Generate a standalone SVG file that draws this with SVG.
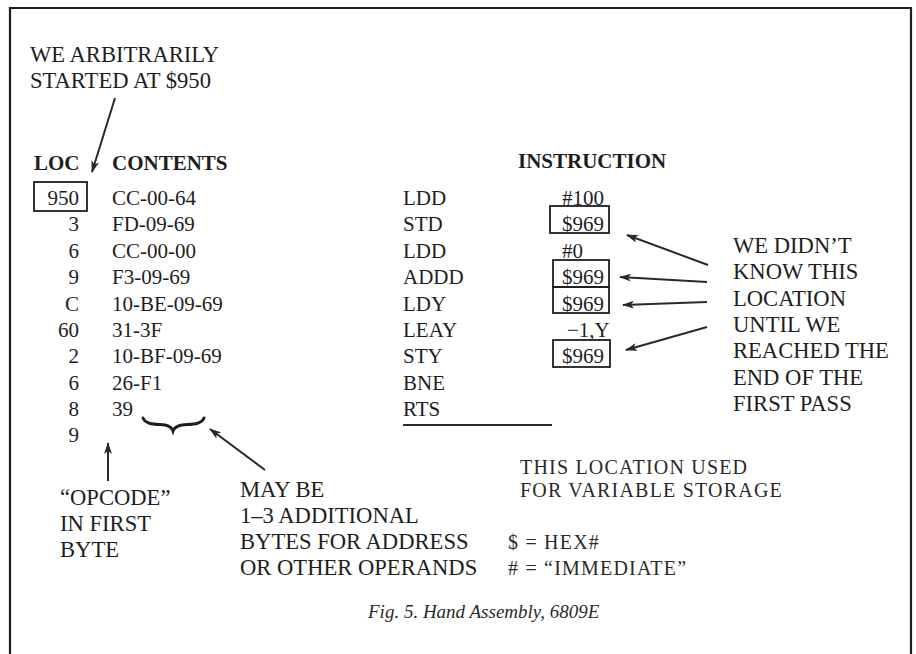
<svg xmlns="http://www.w3.org/2000/svg" width="916" height="654" viewBox="0 0 916 654">
  <defs>
    <style>
      text { font-family: "Liberation Serif", "Times New Roman", serif; fill: #1e1e1e; }
      .t { font-size: 21px; }
      .c { font-size: 22.6px; }
      .h { font-size: 21px; font-weight: bold; }
      .r { text-anchor: end; }
      .note { font-size: 20px; letter-spacing: 1.2px; fill: #2a2a2a; }
      .cap { font-size: 19px; font-style: italic; fill: #2a2a2a; }
      .box { fill: none; stroke: #1e1e1e; stroke-width: 1.8; }
      .frame { fill: none; stroke: #1e1e1e; stroke-width: 2.2; }
      .ln { fill: none; stroke: #2a2a2a; stroke-width: 2; }
    </style>
    <marker id="ah" viewBox="0 0 12 8" refX="11" refY="4" markerWidth="12" markerHeight="8" markerUnits="userSpaceOnUse" orient="auto">
      <path d="M0,0 L12,4 L0,8 L3,4 Z" fill="#2a2a2a"/>
    </marker>
  </defs>

  <rect width="916" height="654" fill="#ffffff"/>

  <!-- outer frame (open at the bottom) -->
  <path class="frame" d="M10,660 L10,8 L911,8 L911,660"/>

  <!-- note: starting address -->
  <g id="note-start">
    <text class="c" x="30" y="62">WE ARBITRARILY</text>
    <text class="c" x="30" y="88">STARTED AT $950</text>
  </g>

  <!-- column headers -->
  <g id="headers">
    <text class="h" x="34" y="170">LOC</text>
    <text class="h" x="112" y="170">CONTENTS</text>
    <text class="h" x="518" y="168">INSTRUCTION</text>
  </g>

  <!-- location column -->
  <g id="loc">
    <rect class="box" x="34" y="182" width="53" height="29"/>
    <text class="t r" x="79" y="205">950</text>
    <text class="t r" x="79" y="231">3</text>
    <text class="t r" x="79" y="258">6</text>
    <text class="t r" x="79" y="284">9</text>
    <text class="t r" x="79" y="311">C</text>
    <text class="t r" x="79" y="337">60</text>
    <text class="t r" x="79" y="363">2</text>
    <text class="t r" x="79" y="390">6</text>
    <text class="t r" x="79" y="416">8</text>
    <text class="t r" x="79" y="442">9</text>
  </g>

  <!-- contents column -->
  <g id="contents">
    <text class="t" x="112" y="205">CC-00-64</text>
    <text class="t" x="112" y="231">FD-09-69</text>
    <text class="t" x="112" y="258">CC-00-00</text>
    <text class="t" x="112" y="284">F3-09-69</text>
    <text class="t" x="112" y="311">10-BE-09-69</text>
    <text class="t" x="112" y="337">31-3F</text>
    <text class="t" x="112" y="363">10-BF-09-69</text>
    <text class="t" x="112" y="390">26-F1</text>
    <text class="t" x="112" y="416">39</text>
  </g>

  <!-- mnemonics -->
  <g id="mnemonics">
    <text class="t" x="403" y="205">LDD</text>
    <text class="t" x="403" y="231">STD</text>
    <text class="t" x="403" y="258">LDD</text>
    <text class="t" x="403" y="284">ADDD</text>
    <text class="t" x="403" y="311">LDY</text>
    <text class="t" x="403" y="337">LEAY</text>
    <text class="t" x="403" y="363">STY</text>
    <text class="t" x="403" y="390">BNE</text>
    <text class="t" x="403" y="416">RTS</text>
    <line class="ln" x1="403" y1="425" x2="552" y2="425"/>
  </g>

  <!-- operands -->
  <g id="operands">
    <text class="t" x="562" y="205">#100</text>
    <rect class="box" x="550" y="206" width="59" height="27"/>
    <text class="t" x="562" y="231">$969</text>
    <text class="t" x="562" y="258">#0</text>
    <rect class="box" x="553" y="260" width="56" height="27"/>
    <text class="t" x="562" y="284">$969</text>
    <rect class="box" x="553" y="287" width="56" height="26"/>
    <text class="t" x="562" y="311">$969</text>
    <text class="t" x="567" y="337">−1,Y</text>
    <rect class="box" x="553" y="340" width="57" height="27"/>
    <text class="t" x="562" y="363">$969</text>
  </g>

  <!-- note: unknown location -->
  <g id="note-unknown">
    <text class="c" x="733" y="253">WE DIDN’T</text>
    <text class="c" x="733" y="279">KNOW THIS</text>
    <text class="c" x="733" y="306">LOCATION</text>
    <text class="c" x="733" y="332">UNTIL WE</text>
    <text class="c" x="733" y="358">REACHED THE</text>
    <text class="c" x="733" y="385">END OF THE</text>
    <text class="c" x="733" y="411">FIRST PASS</text>
  </g>

  <!-- note: opcode -->
  <g id="note-opcode">
    <text class="c" x="60" y="505">“OPCODE”</text>
    <text class="c" x="60" y="531">IN FIRST</text>
    <text class="c" x="60" y="557">BYTE</text>
  </g>

  <!-- note: operand bytes -->
  <g id="note-operands">
    <text class="c" x="240" y="497">MAY BE</text>
    <text class="c" x="240" y="523">1–3 ADDITIONAL</text>
    <text class="c" x="240" y="549">BYTES FOR ADDRESS</text>
    <text class="c" x="240" y="575">OR OTHER OPERANDS</text>
  </g>

  <!-- note: variable storage and legend -->
  <g id="note-storage">
    <text class="note" x="520" y="474">THIS LOCATION USED</text>
    <text class="note" x="520" y="497">FOR VARIABLE STORAGE</text>
    <text class="note" x="508" y="549">$ = HEX#</text>
    <text class="note" x="508" y="575"># = “IMMEDIATE”</text>
  </g>

  <!-- brace under the operand bytes -->
  <g id="brace">
    <path d="M143,418 C146,425 156,424 165,425 C170,426 172,428 173,431 C174,428 177,426 182,425 C191,424 201,425 204,418" fill="none" stroke="#1e1e1e" stroke-width="3" stroke-linecap="round"/>
  </g>

  <!-- connectors -->
  <g id="connectors">
    <line class="ln" x1="115" y1="98" x2="92" y2="172" marker-end="url(#ah)"/>
    <line class="ln" x1="708" y1="265" x2="627" y2="235" marker-end="url(#ah)"/>
    <line class="ln" x1="707" y1="282" x2="620" y2="277" marker-end="url(#ah)"/>
    <line class="ln" x1="707" y1="302" x2="623" y2="305" marker-end="url(#ah)"/>
    <line class="ln" x1="707" y1="327" x2="626" y2="350" marker-end="url(#ah)"/>
    <line class="ln" x1="108" y1="481" x2="108" y2="443" marker-end="url(#ah)"/>
    <line class="ln" x1="265" y1="470" x2="210" y2="429" marker-end="url(#ah)"/>
  </g>

  <!-- caption -->
  <text class="cap" x="368" y="618">Fig. 5. Hand Assembly, 6809E</text>
</svg>
